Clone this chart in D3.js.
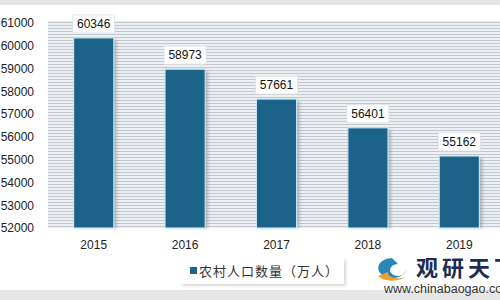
<!DOCTYPE html>
<html>
<head>
<meta charset="utf-8">
<script src="https://cdn.jsdelivr.net/npm/d3@7"></script>
<style>
  body { margin: 0; background: #fff; }
  svg { display: block; }
</style>
</head>
<body>
<div id="chart"></div>
<script>
// data
var years = ["2015", "2016", "2017", "2018", "2019"];
var ruralPop = [60346, 58973, 57661, 56401, 55162];
var yTicks = [52000, 53000, 54000, 55000, 56000, 57000, 58000, 59000, 60000, 61000];
var seriesName = "农村人口数量（万人）";

var width = 500, height = 300;
var plot = {left: 48, right: 505, top: 21, bottom: 228};

var svg = d3.select("#chart").append("svg")
    .attr("width", width)
    .attr("height", height);

var defs = svg.append("defs");

// striped plot background
var pat = defs.append("pattern")
    .attr("id", "stripes")
    .attr("patternUnits", "userSpaceOnUse")
    .attr("width", 6).attr("height", 3);
pat.append("rect").attr("width", 6).attr("height", 3).attr("fill", "#edf0f3");
pat.append("rect").attr("y", 1).attr("width", 6).attr("height", 1).attr("fill", "#c2c7cf");

var blur = defs.append("filter").attr("id", "soft")
    .attr("x", "-20%").attr("y", "-20%").attr("width", "140%").attr("height", "140%");
blur.append("feGaussianBlur").attr("stdDeviation", 1.5);

// top strip
svg.append("rect").attr("x", 0).attr("y", 0).attr("width", width).attr("height", 5).attr("fill", "#e4e4e4");
// bottom strip
svg.append("rect").attr("x", 0).attr("y", 290).attr("width", width).attr("height", 10).attr("fill", "#e6e6e6");

var x = d3.scaleBand()
    .domain(years)
    .range([plot.left, plot.right])
    .paddingInner(0.56)
    .paddingOuter(0.28);

var y = d3.scaleLinear()
    .domain([52000, 61000])
    .range([plot.bottom, 23]);

svg.append("rect")
    .attr("x", plot.left).attr("y", plot.top)
    .attr("width", plot.right - plot.left).attr("height", plot.bottom - plot.top)
    .attr("fill", "url(#stripes)");

// y axis labels
var yAxis = d3.axisLeft(y).tickValues(yTicks).tickSize(0).tickPadding(0).tickFormat(d3.format("d"));
var gy = svg.append("g").attr("transform", "translate(34,0)").call(yAxis);
gy.select(".domain").remove();
gy.selectAll("text")
    .attr("font-family", "Liberation Sans, Arial, sans-serif")
    .attr("font-size", 12)
    .attr("fill", "#222");

// x axis labels
var xAxis = d3.axisBottom(x).tickSize(0).tickPadding(0);
var gx = svg.append("g").attr("transform", "translate(0,240)").call(xAxis);
gx.select(".domain").remove();
gx.selectAll("text")
    .attr("font-family", "Liberation Sans, Arial, sans-serif")
    .attr("font-size", 12)
    .attr("fill", "#222");

var rows = years.map(function (d, i) { return {year: d, value: ruralPop[i]}; });

// bar shadows
svg.selectAll(".shadow")
    .data(rows)
    .enter().append("rect")
    .attr("class", "shadow")
    .attr("x", function (d) { return x(d.year) + 3; })
    .attr("y", function (d) { return y(d.value) + 2; })
    .attr("width", x.bandwidth())
    .attr("height", function (d) { return plot.bottom - y(d.value) - 2; })
    .attr("fill", "#8c96a3")
    .attr("opacity", 0.6)
    .attr("filter", "url(#soft)");

svg.selectAll(".bar")
    .data(rows)
    .enter().append("rect")
    .attr("class", "bar")
    .attr("x", function (d) { return x(d.year); })
    .attr("y", function (d) { return y(d.value); })
    .attr("width", x.bandwidth())
    .attr("height", function (d) { return plot.bottom - y(d.value); })
    .attr("fill", "#1b6388")
    .attr("stroke", "#c6e6f2")
    .attr("stroke-width", 1.2);

// value labels
var lbl = svg.selectAll(".lbl")
    .data(rows)
    .enter().append("g")
    .attr("class", "lbl")
    .attr("transform", function (d) {
        return "translate(" + (x(d.year) + x.bandwidth() / 2) + "," + (y(d.value) - 14) + ")";
    });
lbl.append("rect")
    .attr("x", -21).attr("y", -9)
    .attr("width", 42).attr("height", 18)
    .attr("fill", "#fff")
    .attr("stroke", "#dde1e6")
    .attr("stroke-width", 0.8);
lbl.append("text")
    .attr("text-anchor", "middle")
    .attr("dy", "0.36em")
    .attr("font-family", "Liberation Sans, Arial, sans-serif")
    .attr("font-size", 12)
    .attr("fill", "#111")
    .text(function (d) { return d.value; });

// legend
svg.append("rect")
    .attr("x", 182).attr("y", 260).attr("width", 164).attr("height", 26)
    .attr("fill", "#d8d8d8").attr("filter", "url(#soft)");
svg.append("rect")
    .attr("x", 180).attr("y", 258).attr("width", 164).attr("height", 26)
    .attr("fill", "#fff");
svg.append("rect")
    .attr("x", 190).attr("y", 267).attr("width", 7).attr("height", 7)
    .attr("fill", "#1b6388");
svg.append("text")
    .attr("x", 199).attr("y", 275.5)
    .attr("font-family", "Noto Sans CJK SC, sans-serif")
    .attr("font-size", 13)
    .attr("letter-spacing", 1)
    .attr("fill", "#333")
    .text(seriesName);

// watermark
var wm = svg.append("g");
wm.append("path")
    .attr("d", "M392,258 a14,10 0 1,0 14,12 a8,6 0 1,1 -8,-6 z")
    .attr("fill", "#2b87b5");
wm.append("path")
    .attr("d", "M378,276 a16,9 0 0,0 28,0 a10,6 0 0,1 -18,-4 z")
    .attr("fill", "#f0a030");
wm.append("text")
    .attr("x", 416).attr("y", 276)
    .attr("font-family", "Noto Sans CJK SC, sans-serif")
    .attr("font-weight", "bold")
    .attr("font-size", 22)
    .attr("letter-spacing", 4)
    .attr("fill", "#1c2c52")
    .text("观研天下");
wm.append("text")
    .attr("x", 384).attr("y", 293)
    .attr("font-family", "Liberation Sans, Arial, sans-serif")
    .attr("font-size", 12.5)
    .attr("fill", "#333")
    .text("www.chinabaogao.com");
</script>
</body>
</html>
